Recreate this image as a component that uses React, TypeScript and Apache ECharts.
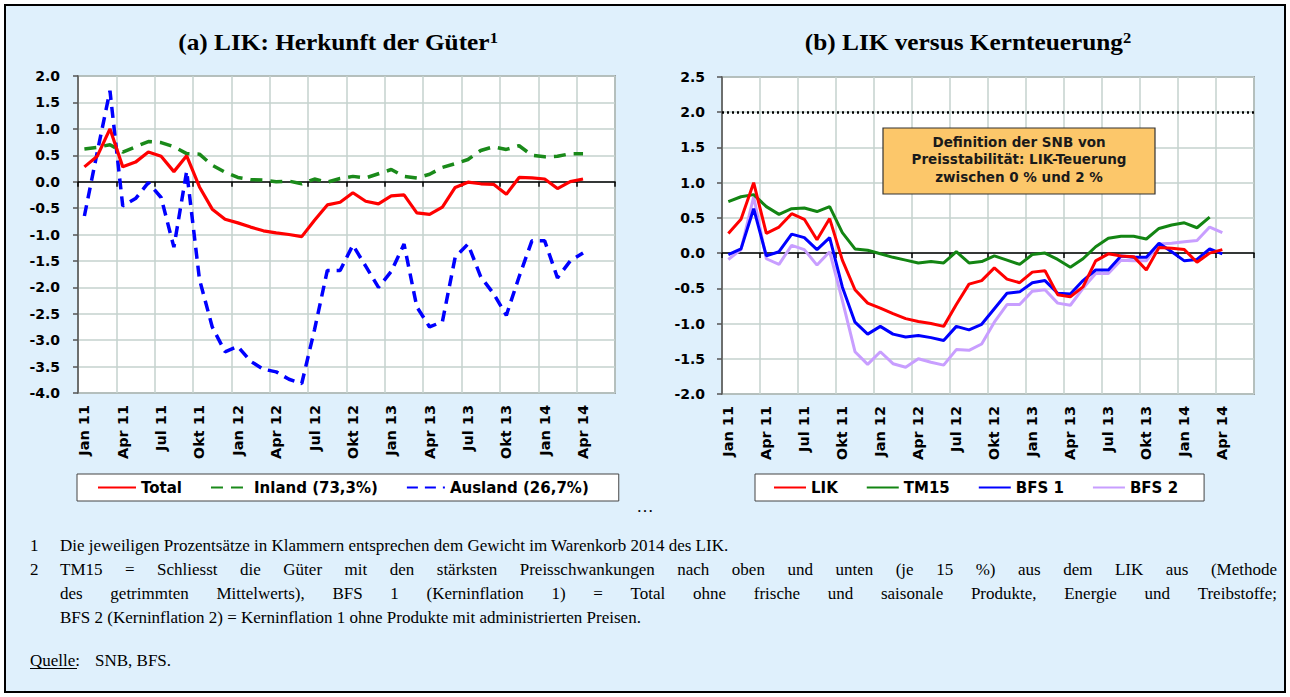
import React, { useEffect, useRef } from 'react';
import * as echarts from 'echarts';

// ---- categories (Jan 11 .. Jun 14, monthly) ----
const monthNames = ['Jan', 'Feb', 'Mär', 'Apr', 'Mai', 'Jun', 'Jul', 'Aug', 'Sep', 'Okt', 'Nov', 'Dez'];
const firstYear = 11;
const monthCount = 42;
const categories: string[] = Array.from({ length: monthCount }, (_, i) => `${monthNames[i % 12]} ${firstYear + Math.floor(i / 12)}`);

// ---- (a) LIK: Herkunft der Güter ----
const likTotal = [0.28, 0.48, 1.0, 0.28, 0.37, 0.56, 0.48, 0.19, 0.49, -0.1, -0.52, -0.71, -0.78, -0.86, -0.93, -0.97, -1.0, -1.04, -0.73, -0.44, -0.39, -0.21, -0.37, -0.42, -0.27, -0.25, -0.59, -0.62, -0.48, -0.11, -0.01, -0.04, -0.05, -0.24, 0.08, 0.07, 0.05, -0.13, 0.0, 0.05];
const inland = [0.62, 0.65, 0.7, 0.56, 0.66, 0.76, 0.74, 0.66, 0.53, 0.52, 0.31, 0.18, 0.08, 0.04, 0.03, 0.0, 0.01, -0.04, 0.05, -0.01, 0.06, 0.1, 0.07, 0.15, 0.23, 0.1, 0.07, 0.14, 0.27, 0.34, 0.42, 0.59, 0.66, 0.61, 0.68, 0.5, 0.47, 0.48, 0.53, 0.53];
const ausland = [-0.65, 0.55, 1.72, -0.46, -0.32, -0.02, -0.3, -1.24, 0.2, -1.85, -2.75, -3.22, -3.12, -3.4, -3.55, -3.6, -3.74, -3.82, -2.8, -1.68, -1.68, -1.2, -1.6, -2.0, -1.7, -1.18, -2.37, -2.75, -2.65, -1.43, -1.18, -1.8, -2.12, -2.53, -1.8, -1.12, -1.12, -1.82, -1.5, -1.35];

// ---- (b) LIK versus Kernteuerung ----
const tm15 = [0.73, 0.8, 0.83, 0.66, 0.55, 0.63, 0.64, 0.59, 0.66, 0.29, 0.06, 0.04, -0.01, -0.06, -0.1, -0.14, -0.12, -0.14, 0.02, -0.14, -0.12, -0.04, -0.1, -0.16, -0.02, 0.0, -0.09, -0.2, -0.08, 0.09, 0.21, 0.24, 0.24, 0.2, 0.35, 0.4, 0.43, 0.36, 0.51];
const bfs1 = [-0.02, 0.06, 0.63, -0.04, 0.02, 0.27, 0.22, 0.05, 0.22, -0.48, -0.98, -1.15, -1.04, -1.15, -1.19, -1.17, -1.2, -1.24, -1.04, -1.09, -1.01, -0.79, -0.57, -0.55, -0.42, -0.39, -0.57, -0.58, -0.39, -0.24, -0.24, -0.04, -0.06, -0.06, 0.14, 0.02, -0.11, -0.09, 0.06, -0.01];
const bfs2 = [-0.09, 0.05, 0.8, -0.08, -0.16, 0.11, 0.05, -0.17, 0.02, -0.67, -1.4, -1.58, -1.4, -1.57, -1.62, -1.5, -1.55, -1.59, -1.37, -1.38, -1.29, -0.98, -0.73, -0.73, -0.54, -0.52, -0.71, -0.74, -0.5, -0.29, -0.29, -0.1, -0.11, -0.11, 0.13, 0.14, 0.16, 0.18, 0.37, 0.29];

// axis ranges
const leftYMin = -4.0, leftYMax = 2.0;
const rightYMin = -2.0, rightYMax = 2.5;
const yStep = 0.5;
const snbUpperBound = 2.0;

const legendLeft = ['Total', 'Inland (73,3%)', 'Ausland (26,7%)'];
const legendRight = ['LIK', 'TM15', 'BFS 1', 'BFS 2'];

const titleA = '(a) LIK: Herkunft der Güter';
const titleB = '(b) LIK versus Kernteuerung';
const boxLines = ['Definition der SNB von', 'Preisstabilität: LIK-Teuerung', 'zwischen 0 % und 2 %'];
// [number, text, justified]
const footnotes: [string, string, boolean][] = [
  ['1', 'Die jeweiligen Prozentsätze in Klammern entsprechen dem Gewicht im Warenkorb 2014 des LIK.', false],
  ['2', 'TM15 = Schliesst die Güter mit den stärksten Preisschwankungen nach oben und unten (je 15 %) aus dem LIK aus (Methode', true],
  ['', 'des getrimmten Mittelwerts), BFS 1 (Kerninflation 1) = Total ohne frische und saisonale Produkte, Energie und Treibstoffe;', true],
  ['', 'BFS 2 (Kerninflation 2) = Kerninflation 1 ohne Produkte mit administrierten Preisen.', false],
];

const SANS = 'DejaVu Sans';
const SERIF = 'Liberation Serif';
const NOTE_SIZE = 17;
const gridColor = '#C4D2CE';
const frameColor = '#666';

function labelAxis(gridIndex: number) {
  return {
    type: 'category', gridIndex, data: categories, boundaryGap: true, position: 'bottom',
    axisLine: { show: false, onZero: false },
    axisTick: { show: false },
    axisLabel: { interval: 2, rotate: 90, margin: 12, color: '#000', fontFamily: SANS, fontWeight: 'bold', fontSize: 14.5 },
    splitLine: { show: true, interval: 2, lineStyle: { color: gridColor, width: 1.5 } },
  };
}
function zeroAxis(gridIndex: number) {
  return {
    type: 'category', gridIndex, data: categories, boundaryGap: true, position: 'top',
    axisLine: { show: true, onZero: true, lineStyle: { color: '#000', width: 1.5 } },
    axisTick: { show: true, interval: 2, inside: true, length: 5, lineStyle: { color: '#000', width: 1.5 } },
    axisLabel: { show: false },
    splitLine: { show: false },
  };
}
function valueAxis(gridIndex: number, min: number, max: number, margin: number) {
  return {
    type: 'value', gridIndex, min, max, interval: yStep,
    axisLine: { show: true, lineStyle: { color: '#555', width: 1.5 } },
    axisTick: { show: true, length: 5, lineStyle: { color: '#555', width: 1.5 } },
    axisLabel: { margin, color: '#000', fontFamily: SANS, fontWeight: 'bold', fontSize: 14, formatter: (v: number) => v.toFixed(1) },
    splitLine: { show: true, lineStyle: { color: gridColor, width: 1.5 } },
  };
}
function line(name: string, data: number[], color: string, xAxisIndex: number, yAxisIndex: number, width: number, type: any, z: number) {
  return {
    type: 'line', name, data, xAxisIndex, yAxisIndex, symbol: 'none', showSymbol: false,
    lineStyle: { color, width, type }, itemStyle: { color }, z,
  };
}

const legendText = { fontFamily: SANS, fontWeight: 'bold', fontSize: 15, color: '#000' };

function footnoteGraphics(): any[] {
  const canvas = document.createElement('canvas');
  const ctx = canvas.getContext('2d')!;
  ctx.font = `${NOTE_SIZE}px "${SERIF}"`;
  const left = 60, right = 1277;
  const out: any[] = [];
  footnotes.forEach(([num, text, justify], i) => {
    const y = 545 + i * 24.3;
    const st = { align: 'left', verticalAlign: 'middle', fontFamily: SERIF, fontSize: NOTE_SIZE, fill: '#000' };
    if (num) out.push({ type: 'text', z: 100, x: 30, y, style: { ...st, text: num } });
    if (!justify) {
      out.push({ type: 'text', z: 100, x: left, y, style: { ...st, text } });
      return;
    }
    const words = text.split(' ');
    const widths = words.map((w) => ctx.measureText(w).width);
    const total = widths.reduce((a, b) => a + b, 0);
    const gap = (right - left - total) / (words.length - 1);
    let x = left;
    words.forEach((w, k) => {
      out.push({ type: 'text', z: 100, x, y, style: { ...st, text: w } });
      x += widths[k] + gap;
    });
  });
  return out;
}

function buildOption(): any {
  return {
    animation: false,
    grid: [
      { left: 78, top: 76, width: 537, height: 317, show: true, backgroundColor: '#fff', borderColor: frameColor, borderWidth: 1.5 },
      { left: 722, top: 77, width: 532, height: 317, show: true, backgroundColor: '#fff', borderColor: frameColor, borderWidth: 1.5 },
    ],
    xAxis: [labelAxis(0), zeroAxis(0), labelAxis(1), zeroAxis(1)],
    yAxis: [valueAxis(0, leftYMin, leftYMax, 18), valueAxis(1, rightYMin, rightYMax, 17)],
    legend: [
      {
        data: legendLeft, left: 77, top: 474, itemWidth: 38, itemHeight: 12, itemGap: 28,
        padding: [6, 30, 6, 20], backgroundColor: '#fff', borderColor: '#444', borderWidth: 1,
        textStyle: legendText, selectedMode: false, itemStyle: { opacity: 0, borderWidth: 0 },
      },
      {
        data: legendRight, left: 755, top: 474, itemWidth: 32, itemHeight: 12, itemGap: 28,
        padding: [6, 26, 6, 18], backgroundColor: '#fff', borderColor: '#444', borderWidth: 1,
        textStyle: legendText, selectedMode: false, itemStyle: { opacity: 0, borderWidth: 0 },
      },
    ],
    series: [
      line('Ausland (26,7%)', ausland, '#0000FF', 0, 0, 3.5, [11, 7], 3),
      line('Inland (73,3%)', inland, '#1A8A1A', 0, 0, 3.5, [12, 8], 4),
      line('Total', likTotal, '#FF0000', 0, 0, 3.2, 'solid', 5),
      line('BFS 2', bfs2, '#C89EFF', 2, 1, 3, 'solid', 3),
      line('BFS 1', bfs1, '#0000FF', 2, 1, 3, 'solid', 4),
      line('TM15', tm15, '#138513', 2, 1, 3, 'solid', 5),
      {
        ...line('LIK', likTotal, '#FF0000', 2, 1, 3, 'solid', 6),
        markLine: {
          silent: true, symbol: ['none', 'none'], label: { show: false },
          lineStyle: { type: [2, 3], color: '#000', width: 2.5 },
          data: [{ yAxis: snbUpperBound }],
        },
      },
    ],
    graphic: [
      ...[[titleA, '1', 338], [titleB, '2', 968]].map(([t, s, x]) => ({
        type: 'text', x, y: 42, z: 100, scaleX: 1.1,
        style: {
          text: `{t|${t}}{s|${s}}`, align: 'center', verticalAlign: 'middle',
          rich: {
            t: { fontFamily: SERIF, fontWeight: 'bold', fontSize: 23, fill: '#000' },
            s: { fontFamily: SERIF, fontWeight: 'bold', fontSize: 15, fill: '#000', verticalAlign: 'top' },
          },
        },
      })),
      {
        type: 'rect', z: 100, shape: { x: 883, y: 128, width: 272, height: 66 },
        style: { fill: '#FCC76A', stroke: '#333', lineWidth: 1.2 },
      },
      ...boxLines.map((t, i) => ({
        type: 'text', z: 101, x: 1019, y: 142 + i * 17.3,
        style: { text: t, align: 'center', verticalAlign: 'middle', fontFamily: SANS, fontWeight: 'bold', fontSize: 13.5, fill: '#1a1a1a' },
      })),
      {
        type: 'text', z: 100, x: 645, y: 506,
        style: { text: '…', align: 'center', verticalAlign: 'middle', fontFamily: SERIF, fontSize: 17, fill: '#000' },
      },
      ...footnoteGraphics(),
      {
        type: 'text', z: 100, x: 30, y: 660,
        style: { text: 'Quelle:', align: 'left', verticalAlign: 'middle', fontFamily: SERIF, fontSize: NOTE_SIZE, fill: '#000' },
      },
      { type: 'line', z: 100, shape: { x1: 30, y1: 668.5, x2: 77, y2: 668.5 }, style: { stroke: '#000', lineWidth: 1 } },
      {
        type: 'text', z: 100, x: 95, y: 660,
        style: { text: 'SNB, BFS.', align: 'left', verticalAlign: 'middle', fontFamily: SERIF, fontSize: NOTE_SIZE, fill: '#000' },
      },
    ],
  };
}

export default function App() {
  const ref = useRef<HTMLDivElement>(null);
  useEffect(() => {
    if (!ref.current) return;
    const chart = echarts.init(ref.current, null, { renderer: 'svg' });
    chart.setOption(buildOption());
    return () => chart.dispose();
  }, []);
  return (
    <div style={{ position: 'absolute', left: 0, top: 0, width: 1290, height: 697, background: '#fff' }}>
      <div style={{ position: 'absolute', left: 4, top: 4, width: 1282, height: 689, boxSizing: 'border-box', border: '2px solid #000', background: '#DFF0FC' }} />
      <div ref={ref} style={{ position: 'absolute', left: 0, top: 0, width: 1290, height: 697 }} />
    </div>
  );
}
